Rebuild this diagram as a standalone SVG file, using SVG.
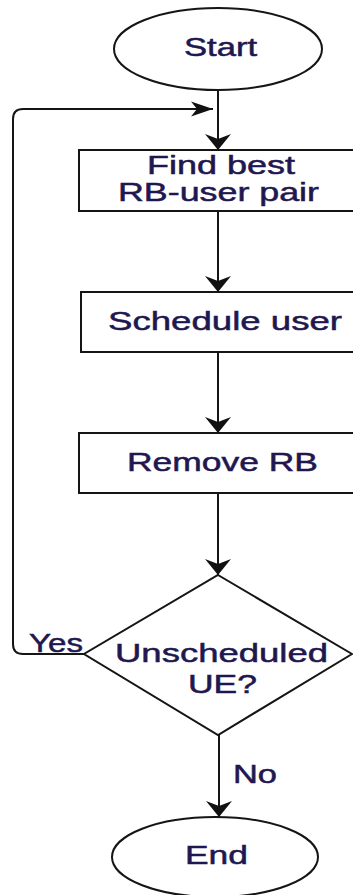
<svg xmlns="http://www.w3.org/2000/svg" width="353" height="895" viewBox="0 0 353 895">
<style>
.shape{fill:#fff;stroke:#151515;stroke-width:2}
.edge{fill:none;stroke:#151515;stroke-width:2}
.t{font-family:"Liberation Sans",Arial,sans-serif;font-size:25px;fill:#1f1850;stroke:#1f1850;stroke-width:0.5}
</style>
<defs>
<marker id="arrowV" markerUnits="userSpaceOnUse" markerWidth="17" markerHeight="28" viewBox="0 0 17 28" refX="16" refY="14" orient="auto">
<path d="M16,14 L0,1 L5,14 L0,27 Z" fill="#111"/>
</marker>
<marker id="arrowH" markerUnits="userSpaceOnUse" markerWidth="23" markerHeight="17" viewBox="0 0 23 17" refX="22" refY="8.5" orient="auto">
<path d="M22,8.5 L0,1 L6,8.5 L0,16 Z" fill="#111"/>
</marker>
</defs>
<rect width="353" height="895" fill="#fff"/>
<g id="connectors">
<path class="edge" d="M218,90 L218,150" marker-end="url(#arrowV)"/>
<path class="edge" d="M84,654 L23,654 Q13,654 13,644 L13,119 Q13,109 23,109 L213,109" marker-end="url(#arrowH)"/>
<path class="edge" d="M218,211 L218,292" marker-end="url(#arrowV)"/>
<path class="edge" d="M218,352 L218,433" marker-end="url(#arrowV)"/>
<path class="edge" d="M218,493 L218,575" marker-end="url(#arrowV)"/>
<path class="edge" d="M219,735 L219,817" marker-end="url(#arrowV)"/>
<text class="t" x="29" y="652" textLength="54" lengthAdjust="spacingAndGlyphs">Yes</text>
<text class="t" x="233" y="783" textLength="44" lengthAdjust="spacingAndGlyphs">No</text>
</g>
<g id="start">
<ellipse class="shape" cx="218" cy="49" rx="104" ry="41"/>
<text class="t" x="184" y="56" textLength="73" lengthAdjust="spacingAndGlyphs">Start</text>
</g>
<g id="find">
<rect class="shape" x="79" y="150" width="280" height="61"/>
<text class="t" x="147" y="174" textLength="148" lengthAdjust="spacingAndGlyphs">Find best</text>
<text class="t" x="118" y="201" textLength="201" lengthAdjust="spacingAndGlyphs">RB-user pair</text>
</g>
<g id="schedule">
<rect class="shape" x="81" y="292" width="280" height="60"/>
<text class="t" x="108" y="330" textLength="234" lengthAdjust="spacingAndGlyphs">Schedule user</text>
</g>
<g id="remove">
<rect class="shape" x="79" y="433" width="280" height="60"/>
<text class="t" x="127" y="471" textLength="191" lengthAdjust="spacingAndGlyphs">Remove RB</text>
</g>
<g id="decision">
<polygon class="shape" points="218,575 352,654 218,735 84,654"/>
<text class="t" x="115" y="662" textLength="213" lengthAdjust="spacingAndGlyphs">Unscheduled</text>
<text class="t" x="188" y="693" textLength="69" lengthAdjust="spacingAndGlyphs">UE?</text>
</g>
<g id="end">
<ellipse class="shape" cx="215" cy="857" rx="103" ry="40"/>
<text class="t" x="185" y="864" textLength="63" lengthAdjust="spacingAndGlyphs">End</text>
</g>
</svg>
